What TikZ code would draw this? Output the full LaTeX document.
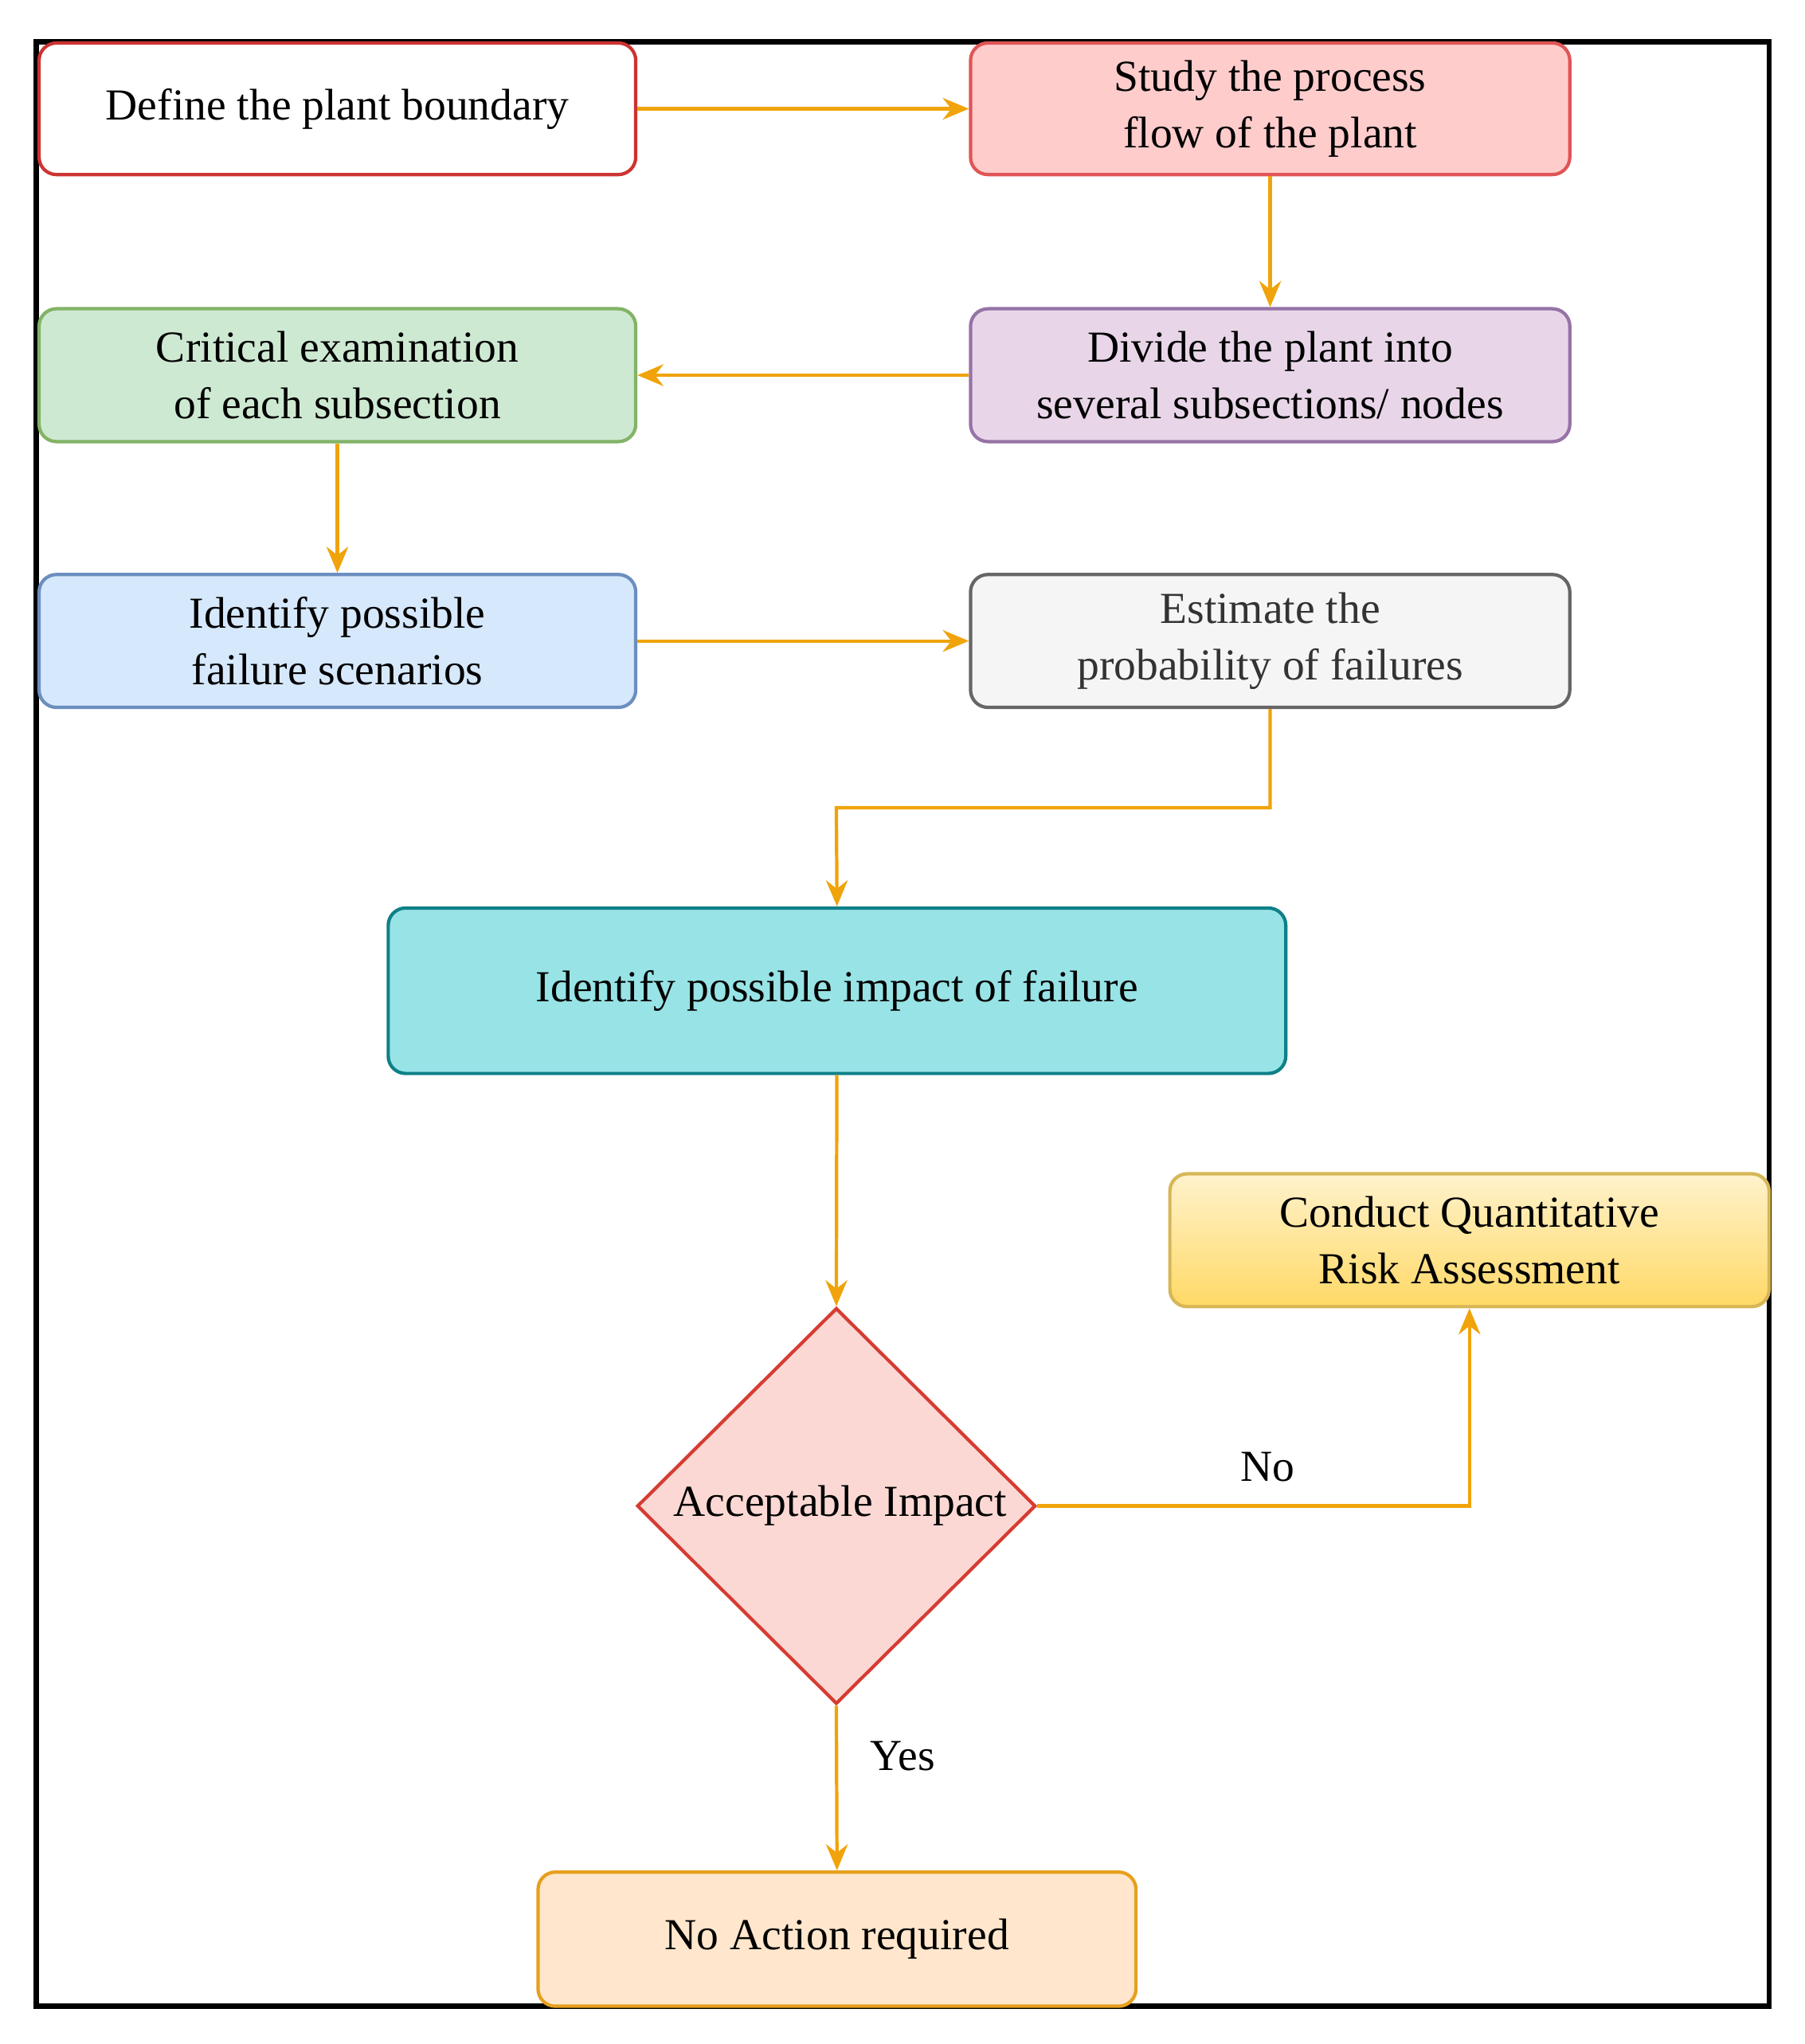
\documentclass[tikz,border=0pt]{standalone}
\usepackage{fontspec}
\setmainfont{Liberation Serif}
\usetikzlibrary{shapes.geometric,arrows.meta}
\definecolor{arr}{HTML}{F0A30A}
\begin{document}
\begin{tikzpicture}[x=0.03cm,y=-0.03cm,
 box/.style={draw,rounded corners=0.4cm,line width=2.2pt,align=center,font=\fontsize{29}{37}\selectfont,inner sep=0pt},
 ar/.style={draw=arr,line width=2.2pt,-{Stealth[length=0.6cm,width=0.5cm]}},
 lab/.style={font=\fontsize{29}{37}\selectfont}]
\useasboundingbox (0,0) rectangle (1385,1569);
\draw[line width=3.5pt] (28,32) rectangle (1358,1540);
\node[box,draw=red!75!black!80,fill=white,minimum width=458*0.03cm,minimum height=101*0.03cm] (a) at (259,83.5) {Define the plant boundary};
\node[box,draw={rgb,255:red,224;green,85;blue,85},fill={rgb,255:red,255;green,204;blue,204},minimum width=460*0.03cm,minimum height=101*0.03cm] (b) at (975,83.5) {Study the process\\flow of the plant};
\node[box,draw={rgb,255:red,150;green,115;blue,166},fill={rgb,255:red,232;green,214;blue,232},minimum width=460*0.03cm,minimum height=102*0.03cm] (c) at (975,288) {Divide the plant into\\several subsections/ nodes};
\node[box,draw={rgb,255:red,130;green,179;blue,102},fill={rgb,255:red,206;green,233;blue,210},minimum width=458*0.03cm,minimum height=102*0.03cm] (d) at (259,288) {Critical examination\\of each subsection};
\node[box,draw={rgb,255:red,108;green,142;blue,191},fill={rgb,255:red,214;green,232;blue,252},minimum width=458*0.03cm,minimum height=102*0.03cm] (e) at (259,492) {Identify possible\\failure scenarios};
\node[box,draw={rgb,255:red,102;green,102;blue,102},fill={rgb,255:red,245;green,245;blue,245},text={rgb,255:red,51;green,51;blue,51},minimum width=460*0.03cm,minimum height=102*0.03cm] (f) at (975,492) {Estimate the\\probability of failures};
\node[box,draw={rgb,255:red,14;green,128;blue,136},fill={rgb,255:red,152;green,227;blue,230},minimum width=689*0.03cm,minimum height=127*0.03cm] (g) at (642.5,760.5) {Identify possible impact of failure};
\node[diamond,draw={rgb,255:red,214;green,60;blue,50},fill={rgb,255:red,251;green,216;blue,212},line width=2.2pt,minimum width=306*0.03cm,minimum height=304*0.03cm,inner sep=0pt,font=\fontsize{29}{37}\selectfont] (h) at (642,1156) {};
\node[font=\fontsize{29}{37}\selectfont] at (645,1156) {Acceptable Impact};
\node[box,draw={rgb,255:red,214;green,182;blue,86},top color={rgb,255:red,255;green,242;blue,204},bottom color={rgb,255:red,255;green,217;blue,102},minimum width=460*0.03cm,minimum height=102*0.03cm] (q) at (1128,952) {Conduct Quantitative\\Risk Assessment};
\node[box,draw={rgb,255:red,230;green,160;blue,30},fill={rgb,255:red,255;green,230;blue,204},minimum width=459*0.03cm,minimum height=103*0.03cm] (n) at (642.5,1488.5) {No Action required};
\coordinate (k1) at (975,620);
\coordinate (k2) at (642,620);
\coordinate (k3) at (1128,1156);
\draw[ar] (a) -- (b);
\draw[ar] (b) -- (c);
\draw[ar] (c) -- (d);
\draw[ar] (d) -- (e);
\draw[ar] (e) -- (f);
\draw[ar] (f.south) -- (k1) -- (k2) -- (g.north);
\draw[ar] (g) -- (h.north);
\draw[ar] (h.east) -- (k3) -- (q.south);
\draw[ar] (h.south) -- (n.north);
\node[lab] at (973,1126) {No};
\node[lab] at (693,1348) {Yes};
\end{tikzpicture}
\end{document}
